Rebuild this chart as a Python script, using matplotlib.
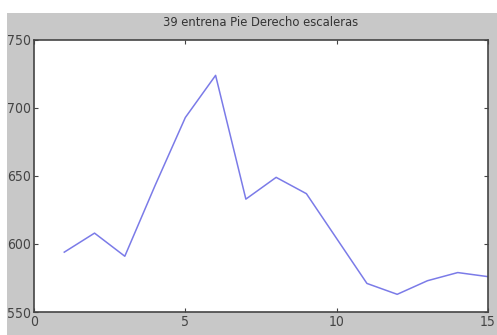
from matplotlib import pyplot as plt
from matplotlib.patches import Rectangle

# Values
trial = list(range(1, 16))
force = [594, 608, 591, 643, 693, 724, 633, 649, 637, 604, 571, 563, 573, 579, 576]
x_ticks = [0, 5, 10, 15]
y_ticks = [550, 600, 650, 700, 750]
title = '39 entrena Pie Derecho escaleras'

plt.rcParams['font.family'] = ['Liberation Sans Narrow', 'DejaVu Sans']
plt.rcParams['font.stretch'] = 'condensed'

W, H = 497, 335
fig = plt.figure(figsize=(W / 100, H / 100), dpi=100, facecolor='white')

# grey MATLAB-style figure background (cropped screenshot look)
fig.patches.append(Rectangle((7 / W, 0), 1 - 7 / W, 1 - 13 / H,
                             transform=fig.transFigure, facecolor='#c8c8c8',
                             edgecolor='none', zorder=-5))

ax = fig.add_axes([34 / W, (H - 312) / H, (488 - 34) / W, (312 - 40) / H])
ax.set_zorder(2)
ax.plot(trial, force, color='#7b7be8', lw=1.1)
ax.set_xlim(0, 15)
ax.set_ylim(550, 750)
ax.set_xticks(x_ticks)
ax.set_yticks(y_ticks)
ax.tick_params(direction='in', length=3, top=True, right=True,
               labelsize=10, colors='#444444', pad=2)
for s in ax.spines.values():
    s.set_color('#444444')
    s.set_linewidth(1.2)
ax.set_title(title, fontsize=9.3, color='#333333', pad=10)

plt.savefig('out.png', dpi=100, facecolor=fig.get_facecolor())
